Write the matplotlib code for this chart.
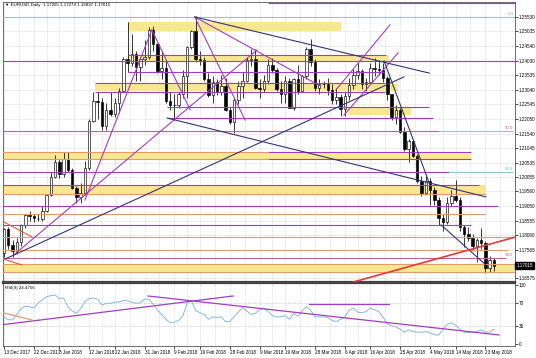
import numpy as np
import matplotlib
matplotlib.use("Agg")
import matplotlib.pyplot as plt

plt.rcParams['font.family'] = ['Liberation Sans', 'DejaVu Sans']

# EURUSD daily bars, 13 Dec 2017 .. 25 May 2018 (x = bar number)
opens = [1.1745, 1.1826, 1.1773, 1.1750, 1.1782, 1.1840, 1.1875, 1.1870, 1.1860, 1.1862,
         1.1890, 1.1942, 1.2005, 1.2058, 1.2015, 1.2068, 1.2030, 1.1968, 1.1937, 1.1950,
         1.2035, 1.2198, 1.2265, 1.2262, 1.2180, 1.2235, 1.2220, 1.2260, 1.2300, 1.2408,
         1.2395, 1.2425, 1.2383, 1.2408, 1.2415, 1.2510, 1.2460, 1.2368, 1.2380, 1.2265,
         1.2250, 1.2252, 1.2290, 1.2350, 1.2450, 1.2505, 1.2410, 1.2405, 1.2340, 1.2285,
         1.2330, 1.2295, 1.2318, 1.2235, 1.2195, 1.2268, 1.2318, 1.2335, 1.2405, 1.2410,
         1.2310, 1.2305, 1.2335, 1.2390, 1.2370, 1.2305, 1.2290, 1.2335, 1.2240, 1.2340,
         1.2300, 1.2350, 1.2445, 1.2400, 1.2310, 1.2322, 1.2325, 1.2302, 1.2270, 1.2280,
         1.2238, 1.2283, 1.2320, 1.2355, 1.2368, 1.2325, 1.2330, 1.2380, 1.2375, 1.2372,
         1.2345, 1.2288, 1.2210, 1.2235, 1.2160, 1.2100, 1.2130, 1.2078, 1.1990, 1.1950,
         1.1990, 1.1960, 1.1925, 1.1865, 1.1850, 1.1915, 1.1940, 1.1925, 1.1835, 1.1810,
         1.1795, 1.1770, 1.1790, 1.1780, 1.1695, 1.1720]
highs = [1.1830, 1.1835, 1.1790, 1.1795, 1.1845, 1.1880, 1.1890, 1.1880, 1.1880, 1.1905,
         1.1945, 1.2023, 1.2081, 1.2068, 1.2089, 1.2090, 1.2035, 1.1975, 1.1985, 1.2060,
         1.2205, 1.2297, 1.2297, 1.2275, 1.2260, 1.2295, 1.2275, 1.2310, 1.2415, 1.2537,
         1.2495, 1.2435, 1.2415, 1.2475, 1.2520, 1.2522, 1.2465, 1.2435, 1.2405, 1.2295,
         1.2290, 1.2295, 1.2370, 1.2455, 1.2510, 1.2555, 1.2435, 1.2415, 1.2360, 1.2350,
         1.2340, 1.2355, 1.2345, 1.2245, 1.2275, 1.2335, 1.2365, 1.2415, 1.2445, 1.2445,
         1.2340, 1.2355, 1.2410, 1.2412, 1.2380, 1.2335, 1.2350, 1.2345, 1.2345, 1.2390,
         1.2355, 1.2450, 1.2476, 1.2410, 1.2340, 1.2335, 1.2345, 1.2325, 1.2310, 1.2290,
         1.2295, 1.2345, 1.2375, 1.2396, 1.2375, 1.2345, 1.2395, 1.2414, 1.2405, 1.2395,
         1.2350, 1.2290, 1.2250, 1.2240, 1.2175, 1.2135, 1.2135, 1.2085, 1.2010, 1.2010,
         1.2000, 1.1970, 1.1935, 1.1880, 1.1935, 1.1960, 1.1995, 1.1935, 1.1840, 1.1835,
         1.1810, 1.1795, 1.1830, 1.1785, 1.1735, 1.1728]
lows = [1.1730, 1.1760, 1.1730, 1.1740, 1.1770, 1.1830, 1.1855, 1.1850, 1.1855, 1.1855,
        1.1885, 1.1940, 1.2000, 1.2000, 1.2005, 1.2022, 1.1965, 1.1915, 1.1915, 1.1945,
        1.2030, 1.2195, 1.2205, 1.2165, 1.2165, 1.2215, 1.2210, 1.2225, 1.2295, 1.2365,
        1.2385, 1.2335, 1.2335, 1.2390, 1.2410, 1.2435, 1.2360, 1.2340, 1.2260, 1.2235,
        1.2205, 1.2240, 1.2275, 1.2275, 1.2445, 1.2400, 1.2390, 1.2335, 1.2280, 1.2260,
        1.2285, 1.2285, 1.2230, 1.2185, 1.2155, 1.2255, 1.2275, 1.2330, 1.2385, 1.2305,
        1.2275, 1.2295, 1.2325, 1.2360, 1.2300, 1.2260, 1.2260, 1.2240, 1.2235, 1.2290,
        1.2295, 1.2340, 1.2385, 1.2300, 1.2290, 1.2310, 1.2285, 1.2255, 1.2255, 1.2215,
        1.2215, 1.2270, 1.2305, 1.2340, 1.2305, 1.2300, 1.2325, 1.2350, 1.2355, 1.2330,
        1.2270, 1.2200, 1.2185, 1.2155, 1.2095, 1.2055, 1.2075, 1.1985, 1.1940, 1.1945,
        1.1910, 1.1910, 1.1840, 1.1820, 1.1845, 1.1905, 1.1920, 1.1820, 1.1765, 1.1785,
        1.1750, 1.1715, 1.1760, 1.1675, 1.1680, 1.1684]
closes = [1.1826, 1.1773, 1.1750, 1.1782, 1.1840, 1.1875, 1.1870, 1.1865, 1.1862, 1.1890,
          1.1942, 1.2005, 1.2058, 1.2015, 1.2068, 1.2030, 1.1968, 1.1937, 1.1950, 1.2035,
          1.2198, 1.2265, 1.2262, 1.2180, 1.2235, 1.2220, 1.2260, 1.2300, 1.2408, 1.2395,
          1.2425, 1.2383, 1.2408, 1.2415, 1.2510, 1.2460, 1.2368, 1.2380, 1.2265, 1.2250,
          1.2252, 1.2290, 1.2350, 1.2450, 1.2505, 1.2410, 1.2405, 1.2340, 1.2285, 1.2330,
          1.2295, 1.2318, 1.2235, 1.2195, 1.2268, 1.2318, 1.2335, 1.2405, 1.2410, 1.2310,
          1.2305, 1.2335, 1.2390, 1.2370, 1.2305, 1.2290, 1.2335, 1.2240, 1.2340, 1.2300,
          1.2350, 1.2445, 1.2400, 1.2310, 1.2322, 1.2325, 1.2302, 1.2270, 1.2280, 1.2238,
          1.2283, 1.2320, 1.2355, 1.2368, 1.2325, 1.2330, 1.2380, 1.2375, 1.2372, 1.2345,
          1.2288, 1.2210, 1.2235, 1.2160, 1.2100, 1.2130, 1.2078, 1.1990, 1.1950, 1.1990,
          1.1960, 1.1925, 1.1865, 1.1850, 1.1915, 1.1940, 1.1925, 1.1835, 1.1810, 1.1795,
          1.1770, 1.1790, 1.1780, 1.1695, 1.1720, 1.17015]

rsi = [46, 41, 41, 50, 60, 64, 63, 61, 69, 75,
       80, 82, 83, 77, 78, 63, 56, 52, 60, 72,
       77, 78, 76, 66, 69, 69, 71, 71, 74, 73,
       71, 69, 70, 76, 76, 68, 58, 50, 42, 36,
       37, 40, 48, 70, 73, 57, 53, 50, 42, 46,
       45, 46, 38, 38, 46, 54, 62, 56, 50, 52,
       58, 61, 55, 48, 46, 46, 48, 42, 52, 47,
       56, 63, 57, 46, 46, 46, 45, 40, 38, 42,
       46, 57, 61, 54, 53, 55, 61, 58, 55, 45,
       34, 31, 29, 25, 20, 24, 21, 20, 20, 21,
       19, 16, 15, 24, 33, 36, 32, 25, 20, 19,
       20, 21, 24, 20, 20, 24.5]

date_pos = [0, 7, 13, 20, 26, 33, 40, 46, 53, 60, 66, 73, 80, 86, 93, 100, 106, 113]
date_labels = ['13 Dec 2017', '22 Dec 2017', '3 Jan 2018', '12 Jan 2018', '22 Jan 2018',
               '31 Jan 2018', '9 Feb 2018', '19 Feb 2018', '28 Feb 2018', '9 Mar 2018',
               '19 Mar 2018', '28 Mar 2018', '6 Apr 2018', '16 Apr 2018', '25 Apr 2018',
               '4 May 2018', '14 May 2018', '23 May 2018']
price_ticks = [1.25530, 1.25035, 1.24540, 1.24030, 1.23535, 1.23040, 1.22545, 1.22050,
               1.21540, 1.21045, 1.20535, 1.20055, 1.19560, 1.19050, 1.18555, 1.18060,
               1.17565, 1.16575]
last_price = 1.17015
rsi_last = 24.4756

# drawn objects: (bar from, bar to, price low, price high)
zones = [(29.1, 79.1, 1.25051, 1.25359), (29.1, 90.4, 1.24023, 1.24194),
         (21.4, 92.5, 1.22996, 1.23235), (80.8, 95.5, 1.22174, 1.22413),
         (-1, 109.6, 1.20667, 1.20890), (-1, 113.1, 1.19480, 1.19760),
         (-1, 121, 1.16797, 1.17070)]
# (price, bar from, bar to)
purple_levels = [(1.24023, -1, 121), (1.24230, 29.1, 89.7), (1.23646, 29.1, 89.2),
                 (1.23270, 21.4, 89.4), (1.22961, 21.4, 89.4), (1.22448, 38.3, 99.8),
                 (1.22071, 38.3, 100.7), (1.20906, 62, 109.6), (1.20667, 62, 109.6),
                 (1.20221, -1, 104.5), (1.19776, -1, 111.5), (1.19057, -1, 116),
                 (1.18406, -1, 109.6), (1.26000, 62, 121)]
pink_levels = [(1.21626, -1, 102.1), (1.17276, -1, 117.8)]
orange_levels = [(1.20906, -1, 62), (1.20667, -1, 62), (1.19480, -1, 113.1),
                 (1.18783, -1, 113.1), (1.17995, -1, 121), (1.17550, -1, 118.3),
                 (1.17070, -1, 121), (1.16797, -1, 121)]
teal_levels = [(1.25530, -1, 121), (1.20221, 104.5, 119.5), (1.21626, 102.1, 119.5)]
fib_labels = [(1.25530, '0.0', '#6fb8b8'), (1.21626, '50.0', '#d0607a'),
              (1.20221, '23.6', '#6fb8b8'), (1.17276, '38.2', '#d0607a')]

# trend lines: ((bar, price), (bar, price))
purple_lines = [((19.0, 1.1926), (34.7, 1.2509)), ((34.7, 1.2509), (43.7, 1.2235)),
                ((2.6, 1.1742), (59.4, 1.2440)), ((44.8, 1.2553), (56.6, 1.2200)),
                ((44.8, 1.2553), (74.2, 1.2317)), ((77.9, 1.2303), (90.6, 1.2526)),
                ((79.8, 1.2217), (92.5, 1.2430))]
navy_lines = [((44.8, 1.2553), (99.8, 1.2361)), ((-0.2, 1.1721), (93.9, 1.2348)),
              ((38.3, 1.2207), (113.1, 1.1937)), ((89.2, 1.2403), (99.8, 1.1985)),
              ((102.6, 1.1841), (113.1, 1.1704))]
red_lines = [((81.9, 1.1645), (120.2, 1.1800))]
orange_lines = [((-0.9, 1.18577), (6.6, 1.17995)), ((-0.9, 1.17276), (4.2, 1.17036))]
rsi_purple_lines = [((-0.9, 32.2), (53.8, 81.4)), ((33.8, 81.4), (116.2, 15.3)),
                    ((71.6, 67.8), (90.4, 67.8))]
rsi_orange_lines = [((-0.9, 54.2), (6.6, 40.7))]

PURPLE = '#a23cc2'
PINK = '#c8609a'
ORANGE = '#e59a6c'
NAVY = '#33337a'
YELLOW = '#f7e78f'

fig = plt.figure(figsize=(5.36, 3.58), dpi=100)
ax = fig.add_axes([3 / 536, 1 - 282 / 358, 512 / 536, 280 / 358])
ax2 = fig.add_axes([3 / 536, 1 - 346 / 358, 512 / 536, 63 / 358])

xlim = (-0.235, 119.95)
bars = np.arange(len(closes))

# zones in background
for x0, x1, lo, hi in zones:
    ax.fill_between([x0, x1], lo, hi, color=YELLOW, lw=0, zorder=1)

# candles
o = np.array(opens); h = np.array(highs); l = np.array(lows); c = np.array(closes)
up = c >= o
ax.vlines(bars, l, h, color='black', lw=0.55, zorder=3)
body_lo = np.minimum(o, c)
body_h = np.maximum(np.abs(c - o), 0.00008)
ax.bar(bars[up], body_h[up], bottom=body_lo[up], width=0.58, color='white',
       edgecolor='black', lw=0.45, zorder=4)
ax.bar(bars[~up], body_h[~up], bottom=body_lo[~up], width=0.58, color='black',
       edgecolor='black', lw=0.45, zorder=4)

# horizontal levels
for levels, col in [(purple_levels, PURPLE), (pink_levels, PINK),
                    (orange_levels, ORANGE), (teal_levels, '#8fcaca')]:
    for p, x0, x1 in levels:
        ax.plot([x0, x1], [p, p], color=col, lw=0.8, zorder=5, solid_capstyle='butt')

for p, txt, col in fib_labels:
    ax.text(119.6, p + 0.0003, txt, color=col, fontsize=3.2, ha='right', va='bottom', zorder=6)

# trend lines
for lines, col, w in [(purple_lines, PURPLE, 0.8), (navy_lines, NAVY, 0.8),
                      (red_lines, '#e23b3b', 1.2), (orange_lines, '#e0603c', 0.8)]:
    for (x0, p0), (x1, p1) in lines:
        ax.plot([x0, x1], [p0, p1], color=col, lw=w, zorder=5)

ax.set_xlim(*xlim)
ax.set_ylim(1.16454, 1.26044)
ax.yaxis.tick_right()
ax.set_yticks(price_ticks)
ax.set_yticklabels(['%.5f' % v for v in price_ticks])
ax.set_xticks(date_pos)
ax.tick_params(axis='x', length=0, labelbottom=False)
ax.tick_params(axis='y', labelsize=3.3, length=2, width=0.5, pad=1)
grid_x = date_pos + [(a + b) / 2 for a, b in zip(date_pos[:-1], date_pos[1:])] + [116.5]
for gx in grid_x:
    ax.axvline(gx, color='#c4c4c4', lw=0.5, ls=(0, (1, 1.5)), zorder=0)
    ax2.axvline(gx, color='#c4c4c4', lw=0.5, ls=(0, (1, 1.5)), zorder=0)
for gy in price_ticks:
    ax.axhline(gy, color='#c4c4c4', lw=0.5, ls=(0, (1, 1.5)), zorder=0)
for s in ax.spines.values():
    s.set_linewidth(0.6)
    s.set_color('#555555')
ax.spines['bottom'].set_linewidth(1.6)
ax.spines['bottom'].set_color('#444444')

ax.text(0.004, 0.997, '\u25bc EURUSD,Daily  1.17205 1.17279 1.16837 1.17015',
        transform=ax.transAxes, fontsize=3.2, va='top', ha='left', zorder=7)
ax.text(1.003, last_price, '%.5f' % last_price, transform=ax.get_yaxis_transform(),
        fontsize=3.3, color='white', va='center', ha='left', zorder=8,
        bbox=dict(facecolor='black', edgecolor='black', pad=0.8))

# RSI panel
ax2.plot(bars, rsi, color='#86b9d9', lw=0.7, zorder=3)
for lines, col in [(rsi_purple_lines, PURPLE), (rsi_orange_lines, ORANGE)]:
    for (x0, v0), (x1, v1) in lines:
        ax2.plot([x0, x1], [v0, v1], color=col, lw=0.9, zorder=4)
for lvl in [70, 30]:
    ax2.axhline(lvl, color='#b0b0b0', lw=0.5, ls=(0, (1, 1.5)), zorder=1)
ax2.set_xlim(*xlim)
ax2.set_ylim(-3.4, 103.4)
ax2.yaxis.tick_right()
ax2.set_yticks([0, 30, 70, 100])
ax2.set_xticks(date_pos)
ax2.set_xticklabels(date_labels, ha='left')
ax2.tick_params(axis='both', labelsize=3.3, length=2, width=0.5, pad=1)
for s in ax2.spines.values():
    s.set_linewidth(0.6)
    s.set_color('#555555')
ax2.spines['top'].set_linewidth(1.6)
ax2.spines['top'].set_color('#444444')
ax2.text(0.004, 0.95, 'RSI(9) %.4f' % rsi_last, transform=ax2.transAxes,
         fontsize=3.2, va='top', ha='left')

fig.savefig('out.png', dpi=100)
